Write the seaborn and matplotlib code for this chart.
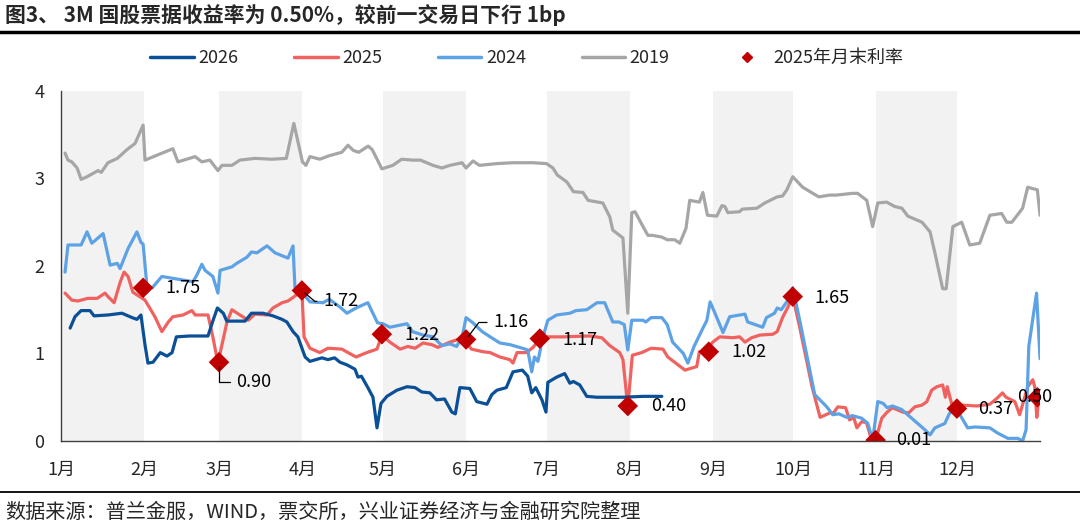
import numpy as np
import pandas as pd
import seaborn as sns
import matplotlib
matplotlib.use("Agg")
from matplotlib import pyplot as plt
from matplotlib.lines import Line2D

sns.set_style("white")
plt.rcParams['font.family'] = ['Noto Sans CJK SC', 'DejaVu Sans']
plt.rcParams['axes.unicode_minus'] = False

# x = day of year (0 = 1月1日), y = 收益率 %
day_2019 = [1.5, 2.6, 4, 6, 7.5, 9.7, 13.8, 15, 17.5, 21, 24.6, 27.6, 30.6, 31.3, 41.7, 43.6, 50, 52.5,
            55.5, 58.5, 60, 63.7, 66.7, 72.3, 78.6, 84, 86.8, 90, 91.3, 92.8, 96.5, 100, 104.7, 107, 109,
            111, 114.5, 116, 118, 119.6, 123.7, 127, 131, 134, 138.7, 142, 145, 149.5, 151, 153.6, 156,
            162.5, 168.5, 176, 181, 183.4, 185, 188.6, 191, 194.6, 196.5, 202, 204.6, 205.7, 209.5, 211.3,
            212.8, 214, 217, 218.8, 220.6, 224, 226, 228.8, 230.7, 233, 234.4, 238, 239.3, 241, 244.5,
            246.4, 247.5, 248.6, 253, 254, 259.4, 262.4, 267, 269, 270.6, 272.8, 276.5, 282.5, 286.6, 289,
            295, 297, 300.4, 302.6, 304.5, 307.8, 310.8, 313.5, 315.7, 321, 324, 325.8, 328.7, 330, 332.5,
            335.8, 338.8, 342.5, 346.3, 350.7, 352.6, 354.5, 358.5, 360.4, 364, 365]
rate_2019 = [3.29, 3.21, 3.19, 3.12, 2.99, 3.02, 3.09, 3.07, 3.18, 3.23, 3.33, 3.40, 3.61, 3.21, 3.34, 3.19,
             3.25, 3.19, 3.21, 3.09, 3.15, 3.15, 3.21, 3.23, 3.22, 3.23, 3.63, 3.19, 3.15, 3.25, 3.22, 3.26,
             3.30, 3.38, 3.32, 3.30, 3.37, 3.33, 3.21, 3.11, 3.15, 3.22, 3.21, 3.21, 3.15, 3.12, 3.15, 3.18,
             3.12, 3.20, 3.15, 3.17, 3.18, 3.18, 3.17, 3.12, 3.04, 2.96, 2.85, 2.84, 2.75, 2.72, 2.56, 2.41,
             2.32, 1.46, 2.61, 2.62, 2.45, 2.35, 2.35, 2.33, 2.30, 2.30, 2.26, 2.43, 2.75, 2.73, 2.84, 2.58,
             2.57, 2.69, 2.68, 2.61, 2.62, 2.65, 2.66, 2.72, 2.79, 2.80, 2.87, 3.02, 2.90, 2.79, 2.81, 2.81,
             2.83, 2.83, 2.75, 2.45, 2.72, 2.73, 2.68, 2.66, 2.57, 2.50, 2.39, 2.15, 1.74, 1.74, 2.45, 2.50,
             2.24, 2.26, 2.58, 2.60, 2.50, 2.50, 2.66, 2.90, 2.87, 2.58]

day_2024 = [1.5, 2.6, 7.5, 9.7, 11.5, 15.7, 18.3, 21, 22, 25, 28.3, 29.8, 30.6, 32, 34, 37.6, 49.2, 50.7,
            52.5, 53.7, 56.6, 58.5, 59.3, 63.7, 65.5, 69.3, 71, 73, 76.8, 79.8, 84.6, 86.5, 87.2, 89.8, 92.8,
            97.7, 100, 104, 106.6, 110, 114.4, 118, 120, 122.6, 129, 131, 135, 138.7, 142, 145, 147.5, 148.2,
            149.5, 151, 153.6, 157, 160, 163.6, 167.5, 172, 174, 175.5, 176.5, 177.8, 179.6, 181.5, 184.8,
            189.7, 192, 196, 199.8, 202.7, 205.7, 208, 210, 211.3, 212.8, 217, 218, 220, 224, 226, 228, 232,
            233.7, 236, 239, 240.8, 242, 244.5, 246.8, 249.3, 255, 256, 261.6, 263, 266, 267, 268.5, 270.6,
            272.8, 275.4, 281, 285.5, 287.7, 290, 293, 295, 298.5, 300.8, 302.6, 304.5, 306.5, 308, 310,
            313.4, 316.4, 319.4, 322, 324, 325.8, 329.5, 331.3, 334, 338, 340.7, 346.3, 349.2, 353, 356.7,
            358.5, 359.8, 360.8, 363.7, 365]
rate_2024 = [1.93, 2.24, 2.24, 2.39, 2.26, 2.37, 2.01, 2.03, 1.97, 2.20, 2.39, 2.27, 2.25, 1.78, 1.75, 1.88,
             1.82, 1.90, 2.02, 1.95, 1.88, 1.69, 1.95, 1.99, 2.03, 2.10, 2.16, 2.15, 2.23, 2.15, 2.09, 2.23,
             1.76, 1.70, 1.59, 1.58, 1.62, 1.53, 1.46, 1.52, 1.58, 1.35, 1.34, 1.30, 1.34, 1.25, 1.21, 1.19,
             1.09, 1.11, 1.08, 1.12, 1.18, 1.41, 1.35, 1.25, 1.19, 1.12, 1.10, 1.06, 1.04, 0.79, 0.96, 0.91,
             1.18, 1.38, 1.44, 1.46, 1.49, 1.50, 1.58, 1.58, 1.36, 1.36, 1.33, 1.04, 1.38, 1.38, 1.36, 1.41,
             1.41, 1.33, 1.13, 1.00, 0.89, 1.08, 1.27, 1.38, 1.59, 1.41, 1.24, 1.42, 1.45, 1.36, 1.30, 1.41,
             1.46, 1.52, 1.50, 1.59, 1.75, 1.38, 0.53, 0.39, 0.30, 0.31, 0.27, 0.29, 0.26, 0.20, 0.01, 0.45,
             0.43, 0.38, 0.40, 0.36, 0.28, 0.20, 0.13, 0.07, 0.15, 0.20, 0.32, 0.36, 0.15, 0.16, 0.15, 0.09,
             0.03, 0.03, 0.00, 0.13, 1.08, 1.69, 0.94]

day_2025 = [1.5, 4, 6.3, 10, 13.5, 16.4, 17.5, 19.8, 22, 23.5, 25, 26.8, 31.3, 35, 37.6, 40, 41.7, 45.5,
            48.8, 50, 54.8, 56.6, 58.5, 61.8, 63.7, 66.7, 69.8, 72.3, 76.8, 79, 82.4, 84.6, 86.5, 89.8, 90.6,
            92.8, 96.5, 99.5, 104.7, 107, 110, 114, 117.8, 119.6, 122.6, 126.4, 129.3, 132, 135, 138.3, 140.5,
            145, 148, 150, 153, 157.3, 160, 163.6, 167.3, 168.5, 170, 173.5, 176, 178.5, 181.5, 187, 197,
            201.6, 204.6, 208.3, 209.5, 211.3, 213, 216.5, 220, 224.4, 226.2, 230, 232.6, 237, 238, 239.5,
            243, 245.6, 250.5, 253, 255, 257.5, 260.5, 265.4, 267, 269, 271, 272.8, 275.4, 280, 283, 286.6,
            288, 289.6, 292.5, 294, 295.5, 296.7, 298.5, 300.3, 302, 303.7, 306, 308, 310, 313.8, 316, 318.3,
            321, 322.8, 324.6, 326.5, 328.7, 329.7, 330.4, 332, 334, 336, 341.4, 346.3, 349, 351, 352.3,
            355.6, 357.4, 359.3, 360.4, 362.3, 363, 363.8, 364.5]
rate_2025 = [1.69, 1.61, 1.60, 1.63, 1.63, 1.69, 1.65, 1.58, 1.81, 1.93, 1.88, 1.70, 1.61, 1.42, 1.25, 1.36,
             1.42, 1.44, 1.49, 1.44, 1.44, 1.19, 0.89, 1.35, 1.50, 1.44, 1.38, 1.45, 1.44, 1.52, 1.58, 1.60,
             1.64, 1.72, 1.19, 1.06, 1.01, 1.06, 1.05, 1.01, 0.96, 1.01, 1.05, 1.21, 1.13, 1.05, 1.08, 1.06,
             1.12, 1.10, 1.07, 1.13, 1.16, 1.16, 1.05, 1.02, 1.01, 0.96, 0.93, 0.89, 1.01, 1.01, 1.07, 1.17,
             1.19, 1.19, 1.20, 1.18, 1.09, 1.01, 0.93, 0.39, 0.98, 1.01, 1.06, 1.05, 0.96, 0.87, 0.81, 0.85,
             1.02, 1.01, 1.13, 1.19, 1.18, 1.19, 1.13, 1.18, 1.21, 1.22, 1.25, 1.41, 1.53, 1.65, 1.30, 0.62,
             0.27, 0.32, 0.32, 0.39, 0.38, 0.24, 0.27, 0.15, 0.22, 0.21, 0.03, 0.01, 0.26, 0.33, 0.38, 0.33,
             0.32, 0.39, 0.41, 0.45, 0.58, 0.62, 0.64, 0.50, 0.62, 0.43, 0.36, 0.41, 0.40, 0.42, 0.49, 0.55,
             0.50, 0.45, 0.30, 0.50, 0.62, 0.70, 0.62, 0.27, 0.47]

day_2026 = [3.4, 5.2, 7.5, 10.8, 12.3, 17.5, 22.7, 26.5, 28.3, 29.8, 31.3, 32.4, 34.3, 37, 39.5, 41.4, 43,
            48, 54.8, 56.7, 58.3, 60.5, 61.8, 68.6, 71, 75.3, 79, 82.4, 84.2, 86.5, 88.3, 91, 92.8, 97.3,
            99.5, 102, 104, 106.6, 109.6, 110.7, 112, 114.4, 116.3, 117.8, 119.3, 121.5, 125.2, 129, 132,
            134.5, 137.5, 140, 143, 145.7, 147, 148.7, 152.4, 155, 158.8, 160.6, 162.5, 166, 168.5, 172, 174,
            175.5, 177, 179.3, 180.8, 181.5, 184.8, 187.8, 189.7, 191, 193.4, 196, 199.8, 209.5, 217, 224]
rate_2026 = [1.29, 1.42, 1.49, 1.49, 1.43, 1.44, 1.46, 1.41, 1.39, 1.44, 1.10, 0.89, 0.90, 1.01, 0.97, 1.01,
             1.19, 1.20, 1.20, 1.38, 1.52, 1.46, 1.37, 1.37, 1.46, 1.46, 1.43, 1.39, 1.36, 1.25, 1.19, 0.96,
             0.91, 0.95, 0.93, 0.95, 0.90, 0.87, 0.82, 0.73, 0.74, 0.61, 0.50, 0.15, 0.43, 0.51, 0.58, 0.62,
             0.61, 0.56, 0.55, 0.47, 0.48, 0.33, 0.31, 0.61, 0.60, 0.45, 0.42, 0.53, 0.58, 0.61, 0.79, 0.81,
             0.74, 0.55, 0.61, 0.47, 0.33, 0.67, 0.73, 0.77, 0.66, 0.68, 0.64, 0.51, 0.50, 0.50, 0.51, 0.51]

# 2025年月末利率
me_day = [30.6, 58.9, 89.8, 119.6, 151, 178.5, 211.3, 241.5, 272.8, 303.7, 334, 364]
me_rate = [1.75, 0.90, 1.72, 1.22, 1.16, 1.17, 0.40, 1.02, 1.65, 0.01, 0.37, 0.50]
me_text = ["1.75", "0.90", "1.72", "1.22", "1.16", "1.17", "0.40", "1.02", "1.65", "0.01", "0.37", "0.50"]

month_start = [0, 31, 59, 90, 120, 151, 181, 212, 243, 273, 304, 334, 365]
month_labels = ["1月", "2月", "3月", "4月", "5月", "6月", "7月", "8月", "9月", "10月", "11月", "12月", ""]

series = ["2019", "2025", "2024", "2026"]
colors = {"2026": "#0b4f97", "2025": "#f0625f", "2024": "#5ea2e6", "2019": "#a6a6a6"}
mark_color = "#c00000"

df = pd.concat([
    pd.DataFrame({"day": day_2019, "rate": rate_2019, "series": "2019"}),
    pd.DataFrame({"day": day_2025, "rate": rate_2025, "series": "2025"}),
    pd.DataFrame({"day": day_2024, "rate": rate_2024, "series": "2024"}),
    pd.DataFrame({"day": day_2026, "rate": rate_2026, "series": "2026"}),
], ignore_index=True)
me = pd.DataFrame({"day": me_day, "rate": me_rate})

fig = plt.figure(figsize=(10.8, 5.29), dpi=100)
ax = fig.add_axes([0.0565, 0.1664, 0.9065, 0.6616])

# 单月灰色底
for i in range(0, 12, 2):
    ax.axvspan(month_start[i], month_start[i + 1], color="#f2f2f2", lw=0, zorder=0)

for s in series:
    sns.lineplot(data=df[df.series == s], x="day", y="rate", color=colors[s], linewidth=2.3,
                 estimator=None, sort=False, ax=ax, zorder=2)

sns.scatterplot(data=me, x="day", y="rate", marker="D", s=110, color=mark_color,
                edgecolor="none", ax=ax, zorder=4)

# 标注
offsets = [(22, 0), (17, -20), (21, -11), (23, -1), (27, 17), (23, -1),
           (23, 0), (23, 0), (22, -1), (21, 0), (21, 0), (-20, 0)]
leader = {1: "angle,angleA=0,angleB=90", 2: "angle,angleA=0,angleB=-40", 4: "angle,angleA=0,angleB=53"}
for i, (d, r, t) in enumerate(zip(me_day, me_rate, me_text)):
    kw = {}
    if i in leader:
        kw["arrowprops"] = dict(arrowstyle="-", color="black", lw=0.9, shrinkA=2, shrinkB=3,
                                relpos=(0, 0.5), connectionstyle=leader[i])
    a = ax.annotate(t, xy=(d, r), xytext=offsets[i], textcoords="offset pixels",
                    ha="left", va="center", fontsize=13, color="black", zorder=5, **kw)
    a.set_clip_on(True)

ax.set_xlim(0, 365)
ax.set_ylim(0, 4)
ax.set_xticks(month_start)
ax.set_xticklabels(month_labels)
ax.set_yticks([0, 1, 2, 3, 4])
ax.set_yticklabels(["0", "1", "2", "3", "4"])
ax.set_xlabel("")
ax.set_ylabel("")
ax.tick_params(axis="x", direction="out", length=5, width=1, pad=9, labelsize=13, color="#404040")
ax.tick_params(axis="y", direction="out", length=5, width=1, pad=7, labelsize=13, color="#404040")
for side in ["top", "right"]:
    ax.spines[side].set_visible(False)
for side in ["left", "bottom"]:
    ax.spines[side].set_color("#404040")
    ax.spines[side].set_linewidth(1)

handles = [Line2D([], [], color=colors["2026"], lw=2.5),
           Line2D([], [], color=colors["2025"], lw=2.5),
           Line2D([], [], color=colors["2024"], lw=2.5),
           Line2D([], [], color=colors["2019"], lw=2.5),
           Line2D([], [], color=mark_color, marker="D", ls="none", markersize=5)]
fig.legend(handles, ["2026", "2025", "2024", "2019", "2025年月末利率"], loc="center",
           bbox_to_anchor=(0.488, 0.89), ncol=5, frameon=False, fontsize=13,
           handlelength=2.4, handletextpad=0.25, columnspacing=3.1)

fig.text(0.005, 0.972, "图3、 3M 国股票据收益率为 0.50%，较前一交易日下行 1bp", fontsize=15,
         fontweight="bold", ha="left", va="center")
fig.add_artist(Line2D([0, 1], [0.94, 0.94], transform=fig.transFigure, color="black", lw=2.5))
fig.add_artist(Line2D([0, 1], [0.07, 0.07], transform=fig.transFigure, color="black", lw=1.3))
fig.text(0.005, 0.032, "数据来源：普兰金服，WIND，票交所，兴业证券经济与金融研究院整理", fontsize=14.5,
         ha="left", va="center")

fig.savefig("out.png", dpi=100)
